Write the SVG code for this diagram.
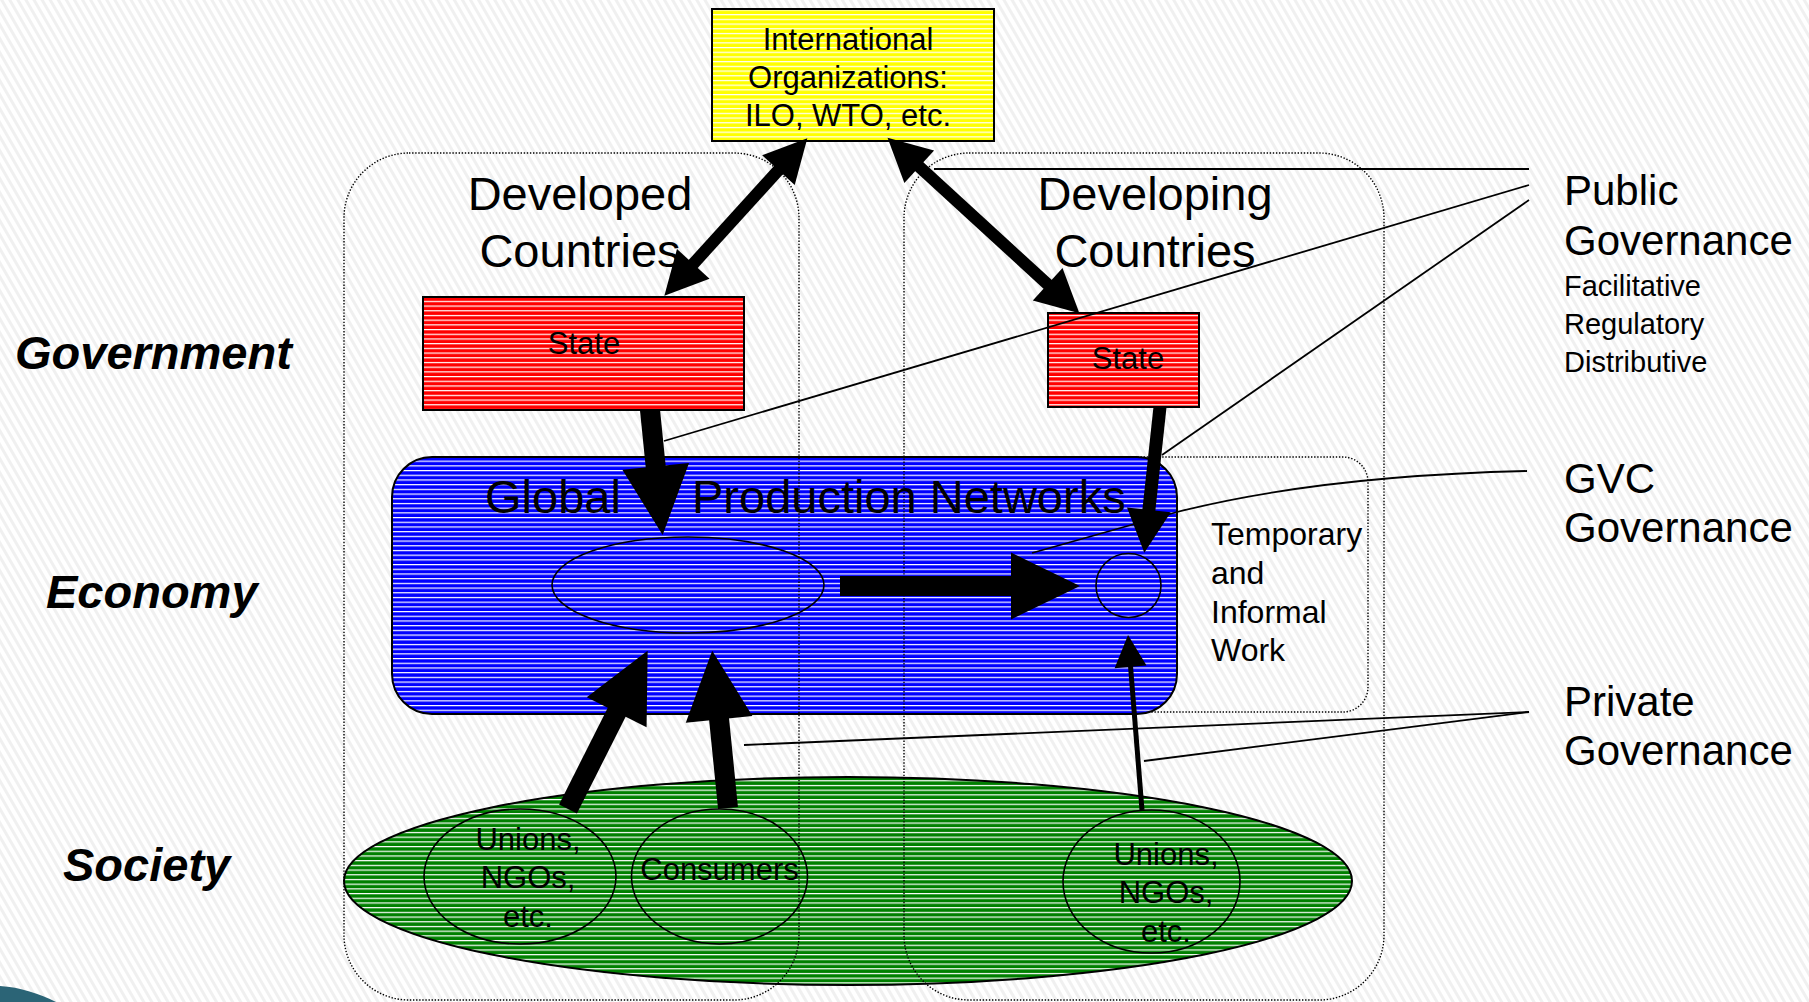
<svg xmlns="http://www.w3.org/2000/svg" width="1809" height="1002" viewBox="0 0 1809 1002">
<defs>
<style>
.t{font-family:"Liberation Sans",Arial,Helvetica,sans-serif;fill:#000}
.side{font-weight:bold;font-style:italic;font-size:47px}
.dot{fill:none;stroke:#000;stroke-width:1.4;stroke-dasharray:1.4 1.7}
.box{stroke:#000;stroke-width:2}
.oval{fill:none;stroke:#000;stroke-width:1.6}
.thin{fill:none;stroke:#000;stroke-width:1.8}
.shaft{fill:none;stroke:#000;stroke-linecap:butt}
</style>
<pattern id="bg" patternUnits="userSpaceOnUse" width="7" height="7" patternTransform="rotate(-30)">
<rect width="7" height="7" fill="#ffffff"/><rect width="3" height="7" fill="#f0f0f0"/>
</pattern>
<pattern id="pBlue" patternUnits="userSpaceOnUse" width="10" height="4.7"><rect width="10" height="4.7" fill="#0000ff"/><rect width="10" height="1.2" fill="#ffffff"/></pattern>
<pattern id="pRed" patternUnits="userSpaceOnUse" width="10" height="4.7"><rect width="10" height="4.7" fill="#ff0000"/><rect width="10" height="1.2" fill="#ffffff"/></pattern>
<pattern id="pYel" patternUnits="userSpaceOnUse" width="10" height="4.7"><rect width="10" height="4.7" fill="#ffff00"/><rect width="10" height="1.2" fill="#ffffff"/></pattern>
<pattern id="pGrn" patternUnits="userSpaceOnUse" width="10" height="4.7"><rect width="10" height="4.7" fill="#008000"/><rect width="10" height="1.2" fill="#ffffff"/></pattern>
<marker id="hL" markerUnits="userSpaceOnUse" viewBox="-2 -34 72 68" refX="0" refY="0" markerWidth="72" markerHeight="68" orient="auto" overflow="visible"><path d="M-1,-33.5 L68,0 L-1,33.5 Z" fill="#000"/></marker>
<marker id="hM" markerUnits="userSpaceOnUse" viewBox="-2 -23 46 46" refX="0" refY="0" markerWidth="46" markerHeight="46" orient="auto-start-reverse" overflow="visible"><path d="M-1,-22 L42,0 L-1,22 Z" fill="#000"/></marker>
<marker id="hS" markerUnits="userSpaceOnUse" viewBox="-2 -17 35 34" refX="0" refY="0" markerWidth="35" markerHeight="34" orient="auto" overflow="visible"><path d="M-1,-16 L31,0 L-1,16 Z" fill="#000"/></marker>
</defs>

<rect id="background" width="1809" height="1002" fill="url(#bg)"/>
<path id="corner-swoosh" d="M0,986 C20,987 40,994 56,1002 L0,1002 Z" fill="#2b6476"/>

<g id="temporary-work">
<rect class="dot" x="1100" y="457" width="268" height="255" rx="25"/>
<text class="t" font-size="32" x="1211" y="545">Temporary</text>
<text class="t" font-size="32" x="1211" y="584">and</text>
<text class="t" font-size="32" x="1211" y="623">Informal</text>
<text class="t" font-size="32" x="1211" y="661">Work</text>
</g>

<g id="global-production-networks">
<rect class="box" x="392" y="457" width="785" height="257" rx="40" fill="url(#pBlue)" stroke-width="1.6"/>
<text class="t" font-size="47" y="513"><tspan x="485">Global</tspan><tspan x="692">Production Networks</tspan></text>
<ellipse id="dev-production" class="oval" cx="688" cy="585" rx="136" ry="48"/>
<ellipse id="developing-production" class="oval" cx="1128.5" cy="585.5" rx="32.5" ry="32"/>
</g>

<g id="society">
<ellipse class="box" cx="848" cy="881" rx="504" ry="104" fill="url(#pGrn)"/>
</g>

<g id="state-developed">
<rect class="box" x="423" y="297" width="321" height="113" fill="url(#pRed)"/>
<text class="t" font-size="31" x="584" y="354" text-anchor="middle">State</text>
</g>

<g id="state-developing">
<rect class="box" x="1048" y="313" width="151" height="94" fill="url(#pRed)"/>
<text class="t" font-size="31" x="1128" y="369" text-anchor="middle">State</text>
</g>

<g id="international-organizations">
<rect class="box" x="712" y="9" width="282" height="132" fill="url(#pYel)"/>
<text class="t" font-size="31" x="848" y="50" text-anchor="middle">International</text>
<text class="t" font-size="31" x="848" y="88" text-anchor="middle">Organizations:</text>
<text class="t" font-size="31" x="848" y="126" text-anchor="middle">ILO, WTO, etc.</text>
</g>

<g id="developed-countries">
<rect class="dot" x="344" y="153" width="455" height="847" rx="65"/>
<text class="t" font-size="47" x="580" y="210" text-anchor="middle">Developed</text>
<text class="t" font-size="47" x="580" y="267" text-anchor="middle">Countries</text>
</g>

<g id="developing-countries">
<rect class="dot" x="904" y="153" width="480" height="847" rx="65"/>
<text class="t" font-size="47" x="1155" y="210" text-anchor="middle">Developing</text>
<text class="t" font-size="47" x="1155" y="267" text-anchor="middle">Countries</text>
</g>

<g id="unions-developed">
<ellipse class="oval" cx="520" cy="876.5" rx="96" ry="67.5"/>
<text class="t" font-size="31" x="528" y="850" text-anchor="middle">Unions,</text>
<text class="t" font-size="31" x="528" y="888" text-anchor="middle">NGOs,</text>
<text class="t" font-size="31" x="528" y="927" text-anchor="middle">etc.</text>
</g>

<g id="consumers">
<ellipse class="oval" cx="719.5" cy="876.5" rx="88" ry="67.5"/>
<text class="t" font-size="31" x="719.5" y="880" text-anchor="middle">Consumers</text>
</g>

<g id="unions-developing">
<ellipse class="oval" cx="1151.5" cy="881.5" rx="88.5" ry="71.5"/>
<text class="t" font-size="31" x="1166" y="865" text-anchor="middle">Unions,</text>
<text class="t" font-size="31" x="1166" y="903" text-anchor="middle">NGOs,</text>
<text class="t" font-size="31" x="1166" y="942" text-anchor="middle">etc.</text>
</g>

<g id="row-labels">
<text class="t side" x="15" y="369">Government</text>
<text class="t side" x="46" y="608">Economy</text>
<text class="t side" x="63" y="881">Society</text>
</g>

<g id="public-governance">
<text class="t" font-size="42" x="1564" y="205">Public</text>
<text class="t" font-size="42" x="1564" y="255">Governance</text>
<text class="t" font-size="29" x="1564" y="296">Facilitative</text>
<text class="t" font-size="29" x="1564" y="334">Regulatory</text>
<text class="t" font-size="29" x="1564" y="372">Distributive</text>
</g>

<g id="gvc-governance">
<text class="t" font-size="42" x="1564" y="493">GVC</text>
<text class="t" font-size="42" x="1564" y="542">Governance</text>
</g>

<g id="private-governance">
<text class="t" font-size="42" x="1564" y="716">Private</text>
<text class="t" font-size="42" x="1564" y="765">Governance</text>
</g>

<g id="connectors">
<line class="shaft" x1="840" y1="586" x2="1012" y2="586" stroke-width="20" marker-end="url(#hL)"/>
<line class="shaft" x1="650" y1="410" x2="655.8" y2="467.4" stroke-width="20" marker-end="url(#hL)"/>
<line class="shaft" x1="568" y1="809" x2="617.1" y2="711.4" stroke-width="20" marker-end="url(#hL)"/>
<line class="shaft" x1="728" y1="808" x2="719" y2="718.4" stroke-width="20" marker-end="url(#hL)"/>
<line class="shaft" x1="1142" y1="810" x2="1130.5" y2="665.9" stroke-width="5" marker-end="url(#hS)"/>
<line class="shaft" x1="1160" y1="407" x2="1148.8" y2="510.9" stroke-width="13" marker-end="url(#hM)"/>
<line class="shaft" x1="779.1" y1="169.4" x2="692.6" y2="264.6" stroke-width="12" marker-start="url(#hM)" marker-end="url(#hM)"/>
<line class="shaft" x1="918.5" y1="166" x2="1048.4" y2="285" stroke-width="12" marker-start="url(#hM)" marker-end="url(#hM)"/>
<line class="thin" x1="934" y1="169" x2="1529" y2="169"/>
<line class="thin" x1="664" y1="441" x2="1529" y2="185"/>
<line class="thin" x1="1162" y1="455" x2="1529" y2="200"/>
<path class="thin" d="M1527,471 C1400,474 1280,486 1177,512 L1032,553"/>
<line class="thin" x1="1529" y1="712" x2="744" y2="745"/>
<line class="thin" x1="1529" y1="712" x2="1144" y2="761"/>
</g>
</svg>
